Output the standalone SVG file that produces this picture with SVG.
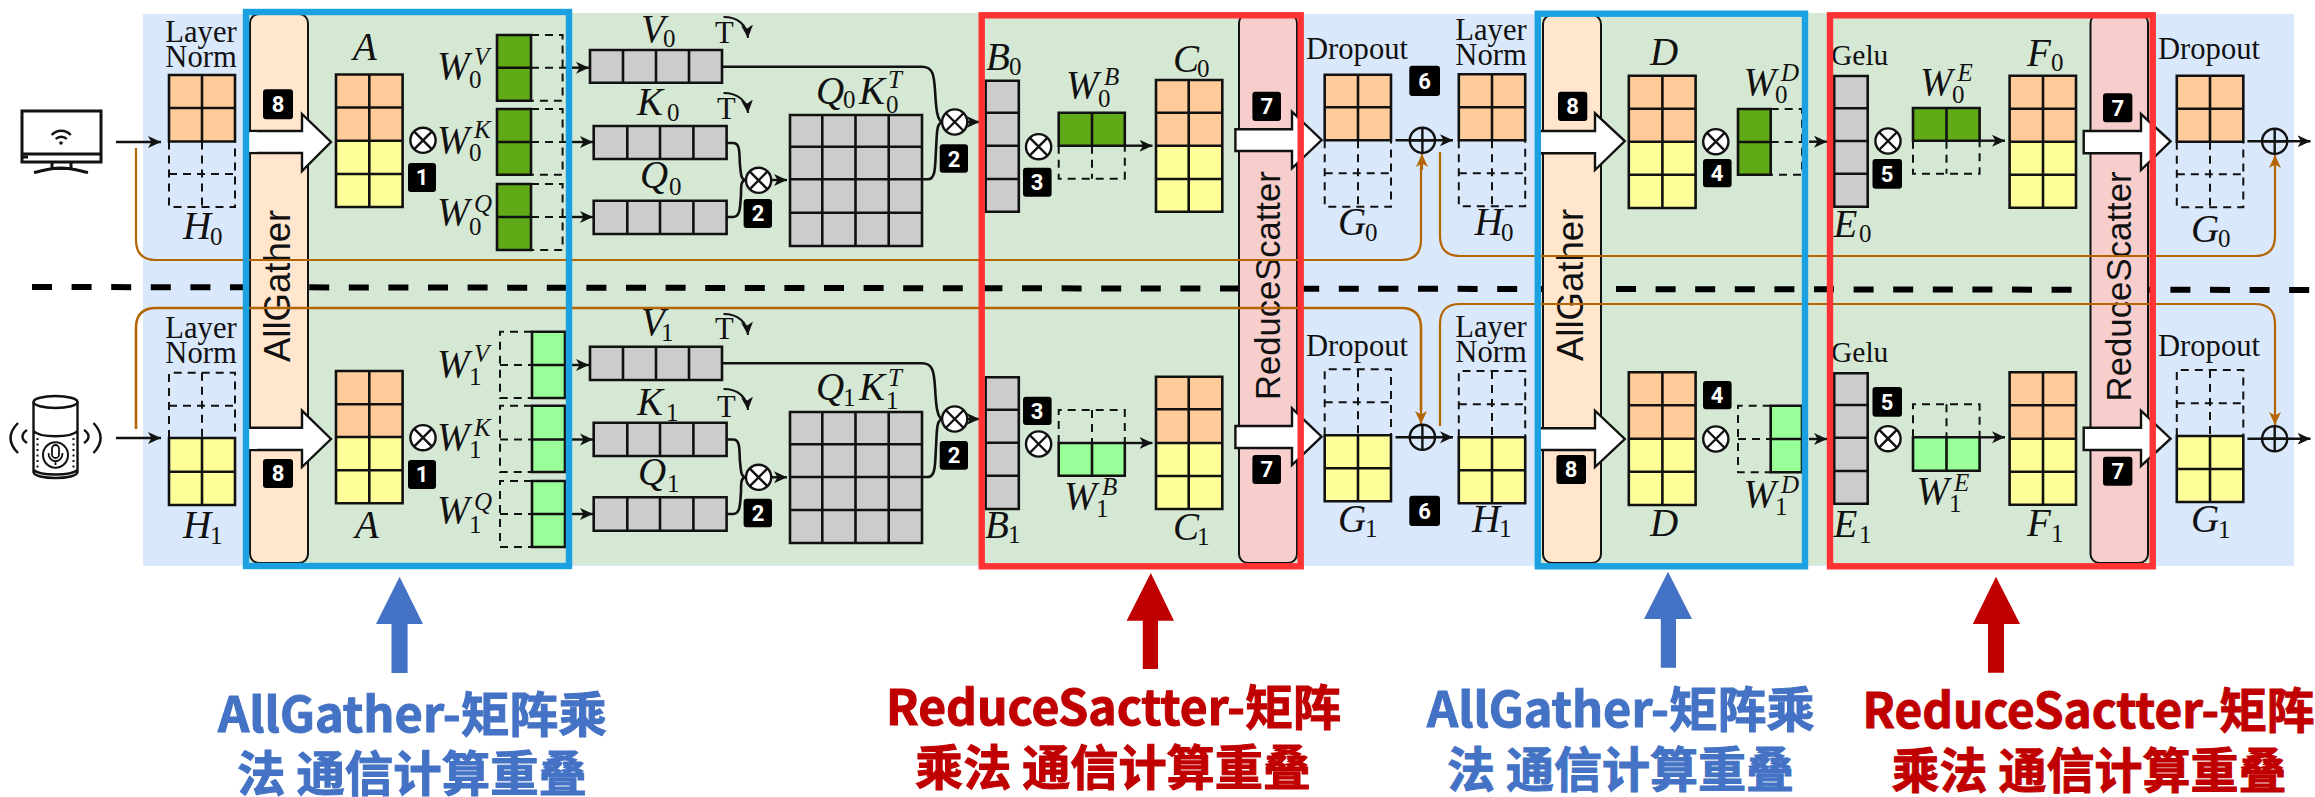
<svg xmlns="http://www.w3.org/2000/svg" width="2315" height="797" viewBox="0 0 2315 797">
<style>
.m{font:italic 39px "Liberation Serif",serif;fill:#111}
.s{font:normal 25px "Liberation Serif",serif}
.u{font:italic 25px "Liberation Serif",serif}
.t{font:30.6px "Liberation Serif",serif;fill:#111}
.v{font:36.5px "Liberation Sans",Arial,sans-serif;fill:#111}
.n{font:bold 22px Roboto,"Liberation Sans",sans-serif;fill:#fff;text-anchor:middle}
.z{font-family:"Noto Sans CJK SC","Noto Sans",sans-serif;font-weight:700;font-size:48px;stroke-width:1}
.zb{fill:#4472c4;stroke:#4472c4}.zr{fill:#c00000;stroke:#c00000}
.b{fill:#000}
.o{fill:#ffcc99}.y{fill:#ffff99}.g{fill:#60a917}.l{fill:#99ff99}.e{fill:#cccccc}
.k{fill:none;stroke:#111;stroke-width:2.6}
.d{fill:none;stroke:#111;stroke-width:2;stroke-dasharray:8 6}
.w{fill:none;stroke:#111;stroke-width:2.4;marker-end:url(#ah)}
.c{fill:none;stroke:#b46504;stroke-width:2.2}
.ca{fill:none;stroke:#b46504;stroke-width:2.2;marker-end:url(#ao)}
.f{fill:#fff;stroke:#111;stroke-width:2.4}
.fe{fill:#fff;stroke:none}
.ic{fill:none;stroke:#111;stroke-width:3}
</style>
<defs>
<marker id="ah" markerUnits="userSpaceOnUse" markerWidth="14" markerHeight="14" refX="13" refY="7" orient="auto"><path d="M0 1L13 7L0 13L3.5 7Z" fill="#111"/></marker>
<marker id="ao" markerUnits="userSpaceOnUse" markerWidth="14" markerHeight="14" refX="13" refY="7" orient="auto"><path d="M0 1L13 7L0 13L3.5 7Z" fill="#b46504"/></marker>
<g id="ot"><circle r="12.6" fill="#fff" stroke="#111" stroke-width="2.4"/><path d="M-9-9L9 9M9-9L-9 9" stroke="#111" stroke-width="2.4"/></g>
<g id="op"><circle r="12.6" fill="none" stroke="#111" stroke-width="2.4"/><path d="M-12.6 0H12.6M0-12.6V12.6" stroke="#111" stroke-width="2.4"/></g>
</defs>

<g id="backgrounds">
<rect x="143" y="14" width="2151" height="552" fill="#dae8fc"/>
<rect x="249" y="13" width="1052" height="552" fill="#d5e8d4"/>
<rect x="1537" y="13" width="613" height="552" fill="#d5e8d4"/>
</g>

<g id="separator"><path d="M32 287L2315 290" fill="none" stroke="#000" stroke-width="6" stroke-dasharray="20 19.6"/></g>

<g id="allgather-bar-1"><rect x="250" y="14" width="58" height="549" rx="9" fill="#ffe6cc" stroke="#111" stroke-width="2"/><text class="v" transform="translate(290 362) rotate(-90)">AllGather</text></g>
<g id="reducescatter-bar-1"><rect x="1239" y="14" width="58" height="549" rx="9" fill="#f8cecc" stroke="#111" stroke-width="2"/><text class="v" style="font-size:34.6px" transform="translate(1280 400) rotate(-90)">ReduceScatter</text></g>
<g id="allgather-bar-2"><rect x="1543" y="15" width="58" height="548" rx="9" fill="#ffe6cc" stroke="#111" stroke-width="2"/><text class="v" transform="translate(1582.5 361) rotate(-90)">AllGather</text></g>
<g id="reducescatter-bar-2"><rect x="2090.5" y="14" width="57.5" height="549" rx="9" fill="#f8cecc" stroke="#111" stroke-width="2"/><text class="v" style="font-size:34.8px" transform="translate(2130.7 401.5) rotate(-90)">ReduceScatter</text></g>

<g id="connectors">
<path class="c" d="M136 148V240Q136 260 156 260H1401Q1421 260 1421 240V157"/>
<path class="ca" d="M1422 170V154" />
<path class="c" d="M1440 152V236Q1440 256 1460 256H2255Q2275 256 2275 236V170"/>
<path class="ca" d="M2275 172V155"/>
<path class="c" style="stroke-width:2.6" d="M136 429V328Q136 308 156 308H1401Q1421 308 1421 328V410"/>
<path class="ca" d="M1421 408V424"/>
<path class="c" d="M1440 426V324Q1440 304 1460 304H2255Q2275 304 2275 324V410"/>
<path class="ca" d="M2275 408V425"/>

<path class="w" d="M116 142H161"/>
<path class="w" d="M116 438H161"/>
<path class="d" d="M531 67.7H572"/><path class="w" d="M566 67.7H589"/>
<path class="d" d="M531 142H572"/><path class="w" d="M566 142H593"/>
<path class="d" d="M531 217H572"/><path class="w" d="M566 217H593"/>
<path class="w" d="M565 365H589"/><path class="w" d="M565 439.5H593"/><path class="w" d="M565 514H593"/>
<path class="k" d="M722 66.7H922C933 66.7 934 75 935 90C936 108 937 122 943 122"/>
<path class="k" d="M922 179.3H928C936 179.3 935 165 936 150C937 135 936 122 943 122"/>
<path class="w" d="M966 122H979.5"/>
<path class="k" d="M726.6 143H733C741 143 739 155 740 165C741 175 741 180 746 180"/>
<path class="k" d="M726.6 217H733C741 217 740 205 741 195C741 185 741 180 746 180"/>
<path class="w" d="M770 180H787"/>
<path class="k" d="M722 363.3H922C933 363.3 934 372 935 387C936 405 937 419 943 419"/>
<path class="k" d="M922 477H928C936 477 935 462 936 447C937 432 936 419 943 419"/>
<path class="w" d="M966 419H979.5"/>
<path class="k" d="M726.6 439.5H733C741 439.5 739 451.5 740 461.5C741 471.5 741 477.3 746 477.3"/>
<path class="k" d="M726.6 514H733C741 514 740 502 741 492C741 482 741 477.3 746 477.3"/>
<path class="w" d="M770 477.3H787"/>
<path class="w" d="M1124 145.7H1152.5"/>
<path class="w" d="M1124 443H1152.5"/>
<path class="w" d="M1395.5 140.3H1453"/>
<path class="w" d="M1395.5 437.3H1453"/>
<path class="w" d="M1809 141.7H1827"/>
<path class="w" d="M1809 439H1827"/>
<path class="w" d="M1979 140.7H2005"/>
<path class="w" d="M1979 437.3H2005"/>
<path class="w" d="M2247.4 141.3H2310.5"/>
<path class="w" d="M2247.4 438.7H2310.5"/>

<path class="w" style="stroke-width:2" d="M723.5 17C738 17 747 25 748 38"/>
<path class="w" style="stroke-width:2" d="M723.5 93C738 93 747 101 748 113"/>
<path class="w" style="stroke-width:2" d="M723.5 314C738 314 747 322 748 335"/>
<path class="w" style="stroke-width:2" d="M723.5 389C738 389 747 397 748 410"/>

<path class="f" d="M250 131H302V114L331 142L302 171V153H250"/><path class="fe" d="M249 132.2h8v19.6h-8z"/>
<path class="f" d="M250 427.7H302V410.7L331 439L302 467V450H250"/><path class="fe" d="M249 429h8v20h-8z"/>
<path class="f" d="M1235.4 129.3H1292V111.7L1321.6 140L1292 168.3V151H1235.4Z"/>
<path class="f" d="M1235.4 426H1292V408.3L1321.6 436.7L1292 465V448H1235.4Z"/>
<path class="f" d="M1541 131H1595V113.3L1624.8 141L1595 170V153.3H1541"/>
<path class="f" d="M1541 428.3H1595V410.7L1624.8 439L1595 467V450H1541"/>
<path class="f" d="M2083.7 131H2141V114L2170.6 141.3L2141 170V153.3H2083.7Z"/>
<path class="f" d="M2083.7 427.7H2141V410.7L2170.6 438.7L2141 466V450H2083.7Z"/>
</g>

<g id="device-tv"><rect class="ic" x="22" y="111" width="79" height="51"/><path class="ic" d="M22 154H101"/><path d="M22 157H28M52 163V168.5H71V163M34 172.5C45 170 50 168 61 168C72 168 77 170 88 172.5" fill="none" stroke="#111" stroke-width="3"/><path d="M51.7 135A13 13 0 0 1 70.8 135M55.7 139A8 8 0 0 1 66.8 139" fill="none" stroke="#111" stroke-width="2.4"/><circle cx="61" cy="143" r="1.8" fill="#111"/></g>
<g id="device-speaker"><ellipse class="ic" style="stroke-width:2.4" cx="55.5" cy="402" rx="22" ry="6"/><path class="ic" style="stroke-width:2.4" d="M33.5 402V472C33.5 480 77.5 480 77.5 472V402M33.5 431C40 438 71 438 77.5 431M33.5 470C40 476 71 476 77.5 470"/><path d="M37.5 438V470M73.5 438V470" fill="none" stroke="#111" stroke-width="2" stroke-dasharray="2 3.5"/><ellipse cx="55.5" cy="455" rx="12.5" ry="12.7" fill="none" stroke="#111" stroke-width="2"/><rect x="52" y="445" width="7" height="13" rx="3.5" fill="none" stroke="#111" stroke-width="1.8"/><path d="M48.5 453C48.5 464 62.5 464 62.5 453M55.5 461V465" fill="none" stroke="#111" stroke-width="1.8"/><path d="M18 423C8 433 8 443 18 453M27 430C21 434 21 439 27 443M93.5 423C103 433 103 443 93.5 453M84 430C90 434 90 439 84 443" fill="none" stroke="#111" stroke-width="2.4"/></g>

<g id="H0-a"><text class="t" x="201" y="42" text-anchor="middle">Layer</text><text class="t" x="201" y="67" text-anchor="middle">Norm</text><rect class="o" x="169" y="75" width="66" height="66.5"/><path class="k" d="M169 75H235V141.5H169ZM202 75V141.5M169 108H235"/><path class="d" d="M169 141.5V207H235V141.5M202 141.5V207M169 174H235"/><text class="m" x="183" y="239">H<tspan class="s" x="210" y="245">0</tspan></text></g>
<g id="A-0"><text class="m" x="353" y="60">A</text><rect class="o" x="336" y="74.5" width="66.6" height="66"/><rect class="y" x="336" y="140.5" width="66.6" height="66.5"/><path class="k" d="M336 74.5H402.6V207H336ZM369.3 74.5V207M336 107.5H402.6M336 140.7H402.6M336 174H402.6"/></g>
<g id="W0V"><text class="m" x="437" y="79">W<tspan class="s" x="469" y="88">0</tspan><tspan class="u" x="474" y="65">V</tspan></text><rect class="g" x="497" y="35" width="34" height="65.7"/><path class="k" d="M497 35H531V100.7H497ZM497 67.7H531"/><path class="d" d="M531 35H562.6V100.7H531"/></g>
<g id="W0K"><text class="m" x="437" y="153">W<tspan class="s" x="469" y="161">0</tspan><tspan class="u" x="474" y="138">K</tspan></text><rect class="g" x="497" y="109" width="34" height="65.7"/><path class="k" d="M497 109H531V174.7H497ZM497 142H531"/><path class="d" d="M531 109H562.6V174.7H531"/></g>
<g id="W0Q"><text class="m" x="437" y="225">W<tspan class="s" x="469" y="235">0</tspan><tspan class="u" x="474" y="212">Q</tspan></text><rect class="g" x="497" y="184" width="34" height="66"/><path class="k" d="M497 184H531V250H497ZM497 217H531"/><path class="d" d="M531 184H562.6V250H531"/></g>
<g id="V0"><text class="m" x="641" y="41.7">V<tspan class="s" x="663" y="47">0</tspan></text><text class="t" x="715" y="42.7">T</text><rect class="e" x="590" y="50" width="132" height="32.7"/><path class="k" d="M590 50H722V82.7H590ZM623 50V82.7M656 50V82.7M689 50V82.7"/></g>
<g id="K0"><text class="m" x="637" y="115">K<tspan class="s" x="667" y="120.7">0</tspan></text><text class="t" x="717" y="119">T</text><rect class="e" x="593.7" y="126" width="133" height="33"/><path class="k" d="M593.7 126H726.6V159H593.7ZM627.3 126V159M660 126V159M693.4 126V159"/></g>
<g id="Q0"><text class="m" x="640" y="188">Q<tspan class="s" x="669" y="195">0</tspan></text><rect class="e" x="593.7" y="200.7" width="133" height="33.3"/><path class="k" d="M593.7 200.7H726.6V234H593.7ZM627.3 200.7V234M660 200.7V234M693.4 200.7V234"/></g>
<g id="Q0K0T"><text class="m" x="816" y="104">Q<tspan class="s" x="843" y="108">0</tspan><tspan x="859" y="104">K</tspan><tspan class="s" x="886" y="112.7">0</tspan><tspan class="u" x="888" y="88">T</tspan></text><rect class="e" x="790" y="115" width="132" height="131"/><path class="k" d="M790 115H922V246H790ZM822.3 115V246M855.5 115V246M888.7 115V246M790 146.7H922M790 179.3H922M790 212.7H922"/></g>
<g id="B0"><text class="m" x="986" y="70">B<tspan class="s" x="1009" y="75">0</tspan></text><rect class="e" x="985.6" y="80.7" width="33.2" height="131"/><path class="k" d="M985.6 80.7H1018.8V211.7H985.6ZM985.6 112.7H1018.8M985.6 145.7H1018.8M985.6 179H1018.8"/></g>
<g id="W0B"><text class="m" x="1066" y="98">W<tspan class="s" x="1098" y="106.7">0</tspan><tspan class="u" x="1104" y="85">B</tspan></text><rect class="g" x="1058.7" y="112.7" width="66" height="33"/><path class="k" d="M1058.7 112.7H1124.8V145.7H1058.7ZM1092 112.7V145.7"/><path class="d" d="M1058.7 145.7V178.7H1124.8V145.7M1092 145.7V178.7"/></g>
<g id="C0"><text class="m" x="1173" y="72">C<tspan class="s" x="1197" y="76.7">0</tspan></text><rect class="o" x="1156" y="80" width="66.3" height="65.7"/><rect class="y" x="1156" y="145.7" width="66.3" height="66"/><path class="k" d="M1156 80H1222.3V211.7H1156ZM1188.7 80V211.7M1156 112.7H1222.3M1156 145.7H1222.3M1156 179H1222.3"/></g>
<g id="G0-a"><text class="t" x="1306" y="59">Dropout</text><rect class="o" x="1324.7" y="74.7" width="66.3" height="65.6"/><path class="k" d="M1324.7 74.7H1391V140.3H1324.7ZM1358 74.7V140.3M1324.7 107.3H1391"/><path class="d" d="M1324.7 140.3V206.7H1391V140.3M1358 140.3V206.7M1324.7 173.3H1391"/><text class="m" x="1338" y="235">G<tspan class="s" x="1365" y="241">0</tspan></text></g>
<g id="H0-b"><text class="t" x="1491" y="40" text-anchor="middle">Layer</text><text class="t" x="1491" y="65" text-anchor="middle">Norm</text><rect class="o" x="1458.8" y="74.3" width="66.4" height="66"/><path class="k" d="M1458.8 74.3H1525.2V140.3H1458.8ZM1492 74.3V140.3M1458.8 107.3H1525.2"/><path class="d" d="M1458.8 140.3V206.3H1525.2V140.3M1492 140.3V206.3M1458.8 173.3H1525.2"/><text class="m" x="1474.6" y="235">H<tspan class="s" x="1501" y="241">0</tspan></text></g>
<g id="D-0"><text class="m" x="1650" y="65">D</text><rect class="o" x="1628.8" y="75.7" width="66.8" height="66"/><rect class="y" x="1628.8" y="141.7" width="66.8" height="66.3"/><path class="k" d="M1628.8 75.7H1695.6V208H1628.8ZM1662.4 75.7V208M1628.8 108.7H1695.6M1628.8 141.7H1695.6M1628.8 174.7H1695.6"/></g>
<g id="W0D"><text class="m" x="1743.5" y="95">W<tspan class="s" x="1775" y="103">0</tspan><tspan class="u" x="1781" y="80.7">D</tspan></text><rect class="g" x="1738" y="109" width="32.7" height="65.7"/><path class="k" d="M1738 109H1770.7V174.7H1738ZM1738 142H1770.7"/><path class="d" d="M1770.7 109H1802V174.7H1770.7M1770.7 142H1802"/></g>
<g id="E0"><text class="t" style="font-size:29.5px" x="1831" y="65">Gelu</text><rect class="e" x="1834.2" y="76" width="33.5" height="130.7"/><path class="k" d="M1834.2 76H1867.7V206.7H1834.2ZM1834.2 108.3H1867.7M1834.2 141H1867.7M1834.2 173.7H1867.7"/><text class="m" x="1833.5" y="236.7">E<tspan class="s" x="1859" y="241.7">0</tspan></text></g>
<g id="W0E"><text class="m" x="1920" y="95">W<tspan class="s" x="1952" y="103">0</tspan><tspan class="u" x="1957.4" y="80.7">E</tspan></text><rect class="g" x="1913" y="108" width="66.6" height="32.7"/><path class="k" d="M1913 108H1979.6V140.7H1913ZM1946.5 108V140.7"/><path class="d" d="M1913 140.7V173.7H1979.6V140.7M1946.5 140.7V173.7"/></g>
<g id="F0"><text class="m" x="2027" y="66">F<tspan class="s" x="2051" y="70.7">0</tspan></text><rect class="o" x="2009.6" y="75.7" width="66.4" height="66"/><rect class="y" x="2009.6" y="141.7" width="66.4" height="66"/><path class="k" d="M2009.6 75.7H2076V207.7H2009.6ZM2043 75.7V207.7M2009.6 108.7H2076M2009.6 141.7H2076M2009.6 174.7H2076"/></g>
<g id="G0-b"><text class="t" x="2158" y="59">Dropout</text><rect class="o" x="2176.8" y="75.7" width="66.5" height="66"/><path class="k" d="M2176.8 75.7H2243.3V141.7H2176.8ZM2210 75.7V141.7M2176.8 108.7H2243.3"/><path class="d" d="M2176.8 141.7V207.3H2243.3V141.7M2210 141.7V207.3M2176.8 174.3H2243.3"/><text class="m" x="2191" y="241.7">G<tspan class="s" x="2218" y="247">0</tspan></text></g>

<g id="H1-a"><text class="t" x="201" y="338" text-anchor="middle">Layer</text><text class="t" x="201" y="362.7" text-anchor="middle">Norm</text><path class="d" d="M169 438V372.7H235V438M202 372.7V438M169 405.7H235"/><rect class="y" x="169" y="438" width="66" height="67"/><path class="k" d="M169 438H235V505H169ZM202 438V505M169 471.7H235"/><text class="m" x="183" y="538">H<tspan class="s" x="210" y="544">1</tspan></text></g>
<g id="A-1"><rect class="o" x="336" y="371" width="66.6" height="66"/><rect class="y" x="336" y="437" width="66.6" height="66.3"/><path class="k" d="M336 371H402.6V503.3H336ZM369.3 371V503.3M336 404.3H402.6M336 437H402.6M336 470.3H402.6"/><text class="m" x="355" y="538">A</text></g>
<g id="W1V"><text class="m" x="437" y="376.7">W<tspan class="s" x="469" y="385">1</tspan><tspan class="u" x="474" y="362">V</tspan></text><path class="d" d="M532 331.7H500V398H532M500 365H532"/><rect class="l" x="532" y="331.7" width="33" height="66.3"/><path class="k" d="M532 331.7H565V398H532ZM532 365H565"/></g>
<g id="W1K"><text class="m" x="437" y="450">W<tspan class="s" x="469" y="458">1</tspan><tspan class="u" x="474" y="436">K</tspan></text><path class="d" d="M532 405.7H500V472H532M500 439.5H532"/><rect class="l" x="532" y="405.7" width="33" height="66.3"/><path class="k" d="M532 405.7H565V472H532ZM532 439.5H565"/></g>
<g id="W1Q"><text class="m" x="437" y="523">W<tspan class="s" x="469" y="533">1</tspan><tspan class="u" x="474" y="510">Q</tspan></text><path class="d" d="M532 481H500V547H532M500 514H532"/><rect class="l" x="532" y="481" width="33" height="66"/><path class="k" d="M532 481H565V547H532ZM532 514H565"/></g>
<g id="V1"><text class="m" x="641" y="335">V<tspan class="s" x="661" y="340.7">1</tspan></text><text class="t" x="715" y="339.3">T</text><rect class="e" x="590" y="346.7" width="132" height="33.3"/><path class="k" d="M590 346.7H722V380H590ZM623 346.7V380M656 346.7V380M689 346.7V380"/></g>
<g id="K1"><text class="m" x="637" y="415">K<tspan class="s" x="666" y="420.7">1</tspan></text><text class="t" x="717" y="416.7">T</text><rect class="e" x="593.7" y="422.7" width="133" height="33.3"/><path class="k" d="M593.7 422.7H726.6V456H593.7ZM627.3 422.7V456M660 422.7V456M693.4 422.7V456"/></g>
<g id="Q1"><text class="m" x="638" y="485">Q<tspan class="s" x="667" y="492">1</tspan></text><rect class="e" x="593.7" y="497.3" width="133" height="33.4"/><path class="k" d="M593.7 497.3H726.6V530.7H593.7ZM627.3 497.3V530.7M660 497.3V530.7M693.4 497.3V530.7"/></g>
<g id="Q1K1T"><text class="m" x="816" y="400">Q<tspan class="s" x="843" y="405.7">1</tspan><tspan x="859" y="400">K</tspan><tspan class="s" x="886" y="408.7">1</tspan><tspan class="u" x="888" y="386">T</tspan></text><rect class="e" x="790" y="412" width="132" height="131"/><path class="k" d="M790 412H922V543H790ZM822.3 412V543M855.5 412V543M888.7 412V543M790 444.3H922M790 477H922M790 510H922"/></g>
<g id="B1"><rect class="e" x="985.6" y="377.3" width="33.2" height="131.7"/><path class="k" d="M985.6 377.3H1018.8V509H985.6ZM985.6 409.7H1018.8M985.6 442.7H1018.8M985.6 475.7H1018.8"/><text class="m" x="985" y="538">B<tspan class="s" x="1008" y="543.3">1</tspan></text></g>
<g id="W1B"><path class="d" d="M1058.7 443V410H1124.8V443M1092 410V443"/><rect class="l" x="1058.7" y="443" width="66" height="32.7"/><path class="k" d="M1058.7 443H1124.8V475.7H1058.7ZM1092 443V475.7"/><text class="m" x="1064" y="509">W<tspan class="s" x="1096" y="516.7">1</tspan><tspan class="u" x="1102" y="495">B</tspan></text></g>
<g id="C1"><rect class="o" x="1156" y="376.7" width="66.3" height="66.3"/><rect class="y" x="1156" y="443" width="66.3" height="66"/><path class="k" d="M1156 376.7H1222.3V509H1156ZM1188.7 376.7V509M1156 409.3H1222.3M1156 443H1222.3M1156 476H1222.3"/><text class="m" x="1173" y="540">C<tspan class="s" x="1197" y="545">1</tspan></text></g>
<g id="G1-a"><text class="t" x="1306" y="355.7">Dropout</text><path class="d" d="M1324.7 435.3V369.3H1391V435.3M1358 369.3V435.3M1324.7 402.3H1391"/><rect class="y" x="1324.7" y="435.3" width="66.3" height="66"/><path class="k" d="M1324.7 435.3H1391V501.3H1324.7ZM1358 435.3V501.3M1324.7 468.3H1391"/><text class="m" x="1338" y="531.7">G<tspan class="s" x="1365" y="537">1</tspan></text></g>
<g id="H1-b"><text class="t" x="1491" y="336.7" text-anchor="middle">Layer</text><text class="t" x="1491" y="361.7" text-anchor="middle">Norm</text><path class="d" d="M1458.8 437.3V371H1525.2V437.3M1492 371V437.3M1458.8 404.3H1525.2"/><rect class="y" x="1458.8" y="437.3" width="66.4" height="66"/><path class="k" d="M1458.8 437.3H1525.2V503.3H1458.8ZM1492 437.3V503.3M1458.8 470.3H1525.2"/><text class="m" x="1472" y="531.7">H<tspan class="s" x="1499" y="537">1</tspan></text></g>
<g id="D-1"><rect class="o" x="1628.8" y="372.3" width="66.8" height="66.4"/><rect class="y" x="1628.8" y="438.7" width="66.8" height="66.3"/><path class="k" d="M1628.8 372.3H1695.6V505H1628.8ZM1662.4 372.3V505M1628.8 405.3H1695.6M1628.8 438.7H1695.6M1628.8 471.7H1695.6"/><text class="m" x="1650" y="535.7">D</text></g>
<g id="W1D"><path class="d" d="M1770.7 405.7H1738V472.3H1770.7M1738 439H1770.7"/><rect class="l" x="1770.7" y="405.7" width="31.3" height="66.6"/><path class="k" d="M1770.7 405.7H1802V472.3H1770.7ZM1770.7 439H1802"/><text class="m" x="1743.5" y="506.7">W<tspan class="s" x="1775" y="515">1</tspan><tspan class="u" x="1781" y="492.7">D</tspan></text></g>
<g id="E1"><text class="t" style="font-size:29.5px" x="1831" y="361.7">Gelu</text><rect class="e" x="1834.2" y="373.3" width="33.5" height="130.4"/><path class="k" d="M1834.2 373.3H1867.7V503.7H1834.2ZM1834.2 405H1867.7M1834.2 437.7H1867.7M1834.2 471H1867.7"/><text class="m" x="1833.5" y="536.7">E<tspan class="s" x="1859" y="543">1</tspan></text></g>
<g id="W1E"><path class="d" d="M1913 437.3V404.3H1979.6V437.3M1946.5 404.3V437.3"/><rect class="l" x="1913" y="437.3" width="66.6" height="33.4"/><path class="k" d="M1913 437.3H1979.6V470.7H1913ZM1946.5 437.3V470.7"/><text class="m" x="1916.5" y="504">W<tspan class="s" x="1949" y="512">1</tspan><tspan class="u" x="1954" y="490.7">E</tspan></text></g>
<g id="F1"><rect class="o" x="2009.6" y="372.3" width="66.4" height="66.4"/><rect class="y" x="2009.6" y="438.7" width="66.4" height="66"/><path class="k" d="M2009.6 372.3H2076V504.7H2009.6ZM2043 372.3V504.7M2009.6 405.3H2076M2009.6 438.7H2076M2009.6 471.7H2076"/><text class="m" x="2027" y="535.7">F<tspan class="s" x="2051" y="541.7">1</tspan></text></g>
<g id="G1-b"><text class="t" x="2158" y="355.7">Dropout</text><path class="d" d="M2176.8 436V370H2243.3V436M2210 370V436M2176.8 403.3H2243.3"/><rect class="y" x="2176.8" y="436" width="66.5" height="66"/><path class="k" d="M2176.8 436H2243.3V502H2176.8ZM2210 436V502M2176.8 469H2243.3"/><text class="m" x="2191" y="532.3">G<tspan class="s" x="2218" y="538">1</tspan></text></g>

<g id="operators">
<use href="#ot" x="423" y="140.3"/><use href="#ot" x="423" y="437.7"/>
<use href="#ot" x="758.6" y="180.3"/><use href="#ot" x="758.6" y="477.3"/>
<use href="#ot" x="954.7" y="122"/><use href="#ot" x="954.7" y="419"/>
<use href="#ot" x="1038.6" y="146.7"/><use href="#ot" x="1038.6" y="444"/>
<use href="#ot" x="1715.8" y="141.7"/><use href="#ot" x="1715.8" y="439"/>
<use href="#ot" x="1888" y="141"/><use href="#ot" x="1888" y="438.7"/>
<use href="#op" x="1422.4" y="140.3"/><use href="#op" x="1422.4" y="437.3"/>
<use href="#op" x="2274.7" y="141.3"/><use href="#op" x="2274.7" y="438.7"/>
</g>

<g id="badges">
<rect class="b" x="263" y="89.3" width="30" height="30" rx="3"/><text class="n" x="278" y="112">8</text>
<rect class="b" x="263" y="459" width="30" height="29" rx="3"/><text class="n" x="278" y="481">8</text>
<rect class="b" x="408" y="163" width="28" height="29" rx="3"/><text class="n" x="422" y="185">1</text>
<rect class="b" x="408" y="460" width="28" height="29" rx="3"/><text class="n" x="422" y="482">1</text>
<rect class="b" x="743.6" y="199" width="28.4" height="29" rx="3"/><text class="n" x="758" y="221">2</text>
<rect class="b" x="743.6" y="498.7" width="28.4" height="28.6" rx="3"/><text class="n" x="758" y="521">2</text>
<rect class="b" x="939.7" y="144.3" width="28.3" height="28.4" rx="3"/><text class="n" x="954" y="166.5">2</text>
<rect class="b" x="939.7" y="441" width="28.3" height="28.7" rx="3"/><text class="n" x="954" y="463">2</text>
<rect class="b" x="1023" y="167.7" width="28.6" height="29" rx="3"/><text class="n" x="1037" y="190">3</text>
<rect class="b" x="1023" y="396.7" width="28.6" height="28.3" rx="3"/><text class="n" x="1037" y="419">3</text>
<rect class="b" x="1703" y="159" width="28.6" height="28.3" rx="3"/><text class="n" x="1717" y="181">4</text>
<rect class="b" x="1703" y="381" width="28.6" height="28.3" rx="3"/><text class="n" x="1717" y="403">4</text>
<rect class="b" x="1872.5" y="159" width="29.5" height="29.7" rx="3"/><text class="n" x="1887" y="181.5">5</text>
<rect class="b" x="1872.5" y="387" width="29.5" height="29.7" rx="3"/><text class="n" x="1887" y="409.5">5</text>
<rect class="b" x="1409.3" y="65.7" width="30.7" height="30.3" rx="3"/><text class="n" x="1424.6" y="88.5">6</text>
<rect class="b" x="1409.3" y="495.7" width="30.7" height="30.3" rx="3"/><text class="n" x="1424.6" y="518.5">6</text>
<rect class="b" x="1252.4" y="91.7" width="28.6" height="29.3" rx="3"/><text class="n" x="1266.7" y="114">7</text>
<rect class="b" x="1252.4" y="455" width="28.6" height="29" rx="3"/><text class="n" x="1266.7" y="477">7</text>
<rect class="b" x="2103" y="93.3" width="29.4" height="29" rx="3"/><text class="n" x="2117.7" y="115.5">7</text>
<rect class="b" x="2103" y="456.7" width="29.4" height="29" rx="3"/><text class="n" x="2117.7" y="479">7</text>
<rect class="b" x="1558" y="91.7" width="29.3" height="29.3" rx="3"/><text class="n" x="1572.6" y="114">8</text>
<rect class="b" x="1556.4" y="455" width="29.6" height="29" rx="3"/><text class="n" x="1571" y="477">8</text>
</g>

<g id="highlights" fill="none" stroke-width="6.4">
<rect x="246" y="12" width="323" height="554" stroke="#1ba1e2"/>
<rect x="981.7" y="15.3" width="319" height="551" stroke="#ff3333"/>
<rect x="1537.8" y="13.7" width="267.2" height="552.6" stroke="#1ba1e2"/>
<rect x="1830" y="15.3" width="322.7" height="551" stroke="#ff3333"/>
</g>

<g id="callout-allgather-1"><path d="M399.6 576.7L423 624H407.6V673H391.5V624H376Z" fill="#4472c4"/><text class="z zb" x="218" y="732" textLength="389" lengthAdjust="spacingAndGlyphs">AllGather-矩阵乘</text><text class="z zb" x="237" y="791" textLength="350" lengthAdjust="spacingAndGlyphs">法 通信计算重叠</text></g>
<g id="callout-reducescatter-1"><path d="M1150.8 573L1174 620.7H1158V669H1142.8V620.7H1126.6Z" fill="#c00000"/><text class="z zr" x="886" y="725" textLength="455" lengthAdjust="spacingAndGlyphs">ReduceSactter-矩阵</text><text class="z zr" x="915" y="785" textLength="396" lengthAdjust="spacingAndGlyphs">乘法 通信计算重叠</text></g>
<g id="callout-allgather-2"><path d="M1668 571.7L1692 619H1676V667.7H1660.8V619H1644Z" fill="#4472c4"/><text class="z zb" x="1427" y="727" textLength="388" lengthAdjust="spacingAndGlyphs">AllGather-矩阵乘</text><text class="z zb" x="1447" y="787" textLength="347" lengthAdjust="spacingAndGlyphs">法 通信计算重叠</text></g>
<g id="callout-reducescatter-2"><path d="M1996 576.7L2020 624H2004V672.7H1988V624H1972.8Z" fill="#c00000"/><text class="z zr" x="1862.6" y="728" textLength="452" lengthAdjust="spacingAndGlyphs">ReduceSactter-矩阵</text><text class="z zr" x="1891.5" y="788" textLength="395" lengthAdjust="spacingAndGlyphs">乘法 通信计算重叠</text></g>
</svg>
